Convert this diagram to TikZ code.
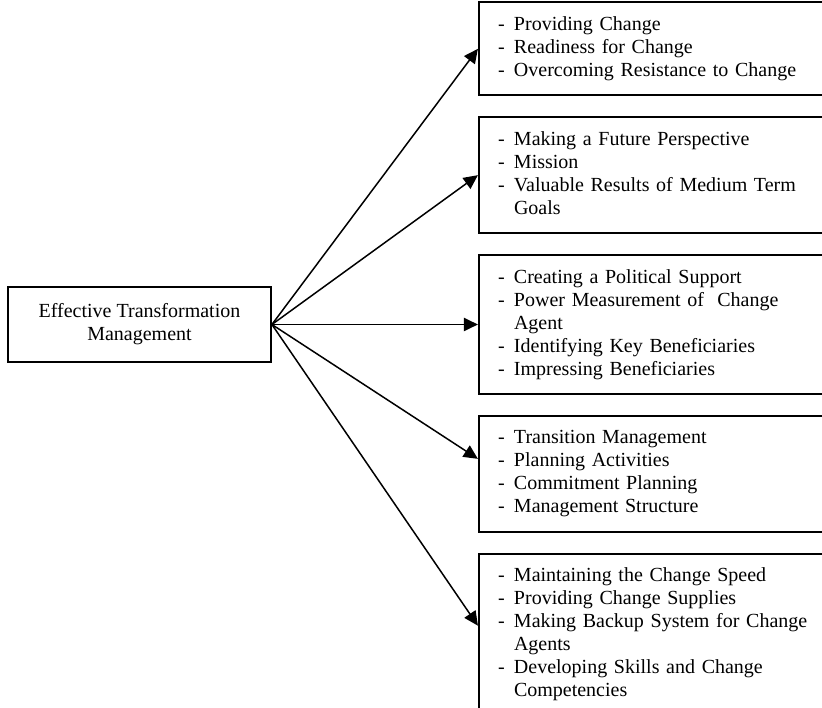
\documentclass[tikz,border=0pt]{standalone}
\usepackage{fontspec}
\setmainfont{Liberation Serif}
\usetikzlibrary{positioning, arrows.meta}

\begin{document}
\begin{tikzpicture}[
	node distance = 12pt and 123.6pt,
	font=\fontsize{12}{13.8}\selectfont,
	>={Triangle[length=8.5pt,width=8pt]},
	box/.style = {rectangle, draw, line width=1.1pt,
		inner xsep=11.5pt, inner ysep=7.2pt, text width=192pt, align=left},
	mainbox/.style = {rectangle, draw, line width=1.1pt,
		minimum width=157.8pt, minimum height=45pt, align=center},
	arr/.style = {->, line width=0.9pt}
	]
	\useasboundingbox (0,0) rectangle (493.2pt,-424.8pt);
	\clip (0,0) rectangle (493.2pt,-424.8pt);
	
	\node (n0) [mainbox] at (83.7pt,-194.7pt) {Effective Transformation\\Management};
	\node (n3) [box,right=of n0] {\begin{tabular}{@{}p{9.6pt}@{}l@{}}
			- & Creating a Political Support\\
			- & Power Measurement of \ Change\\
			  & Agent\\
			- & Identifying Key Beneficiaries\\
			- & Impressing Beneficiaries
		\end{tabular}};
	\node (n2) [box,above=of n3] {\begin{tabular}{@{}p{9.6pt}@{}l@{}}
			- & Making a Future Perspective\\
			- & Mission\\
			- & Valuable Results of Medium Term\\
			  & Goals
		\end{tabular}};
	\node (n1) [box,above=of n2] {\begin{tabular}{@{}p{9.6pt}@{}l@{}}
			- & Providing Change\\
			- & Readiness for Change\\
			- & Overcoming Resistance to Change
		\end{tabular}};
	\node (n4) [box,below=of n3] {\begin{tabular}{@{}p{9.6pt}@{}l@{}}
			- & Transition Management\\
			- & Planning Activities\\
			- & Commitment Planning\\
			- & Management Structure
		\end{tabular}};
	\node (n5) [box,below=of n4] {\begin{tabular}{@{}p{9.6pt}@{}l@{}}
			- & Maintaining the Change Speed\\
			- & Providing Change Supplies\\
			- & Making Backup System for Change\\
			  & Agents\\
			- & Developing Skills and Change\\
			  & Competencies
		\end{tabular}};
	%
	\draw[arr] (n0.east) -- (n1.west);
	\draw[arr] (n0.east) -- (n2.west);
	\draw[arr] (n0.east) -- (n3.west);
	\draw[arr] (n0.east) -- ([yshift=9pt]n4.west);
	\draw[arr] (n0.east) -- ([yshift=5.4pt]n5.west);
\end{tikzpicture}
\end{document}
